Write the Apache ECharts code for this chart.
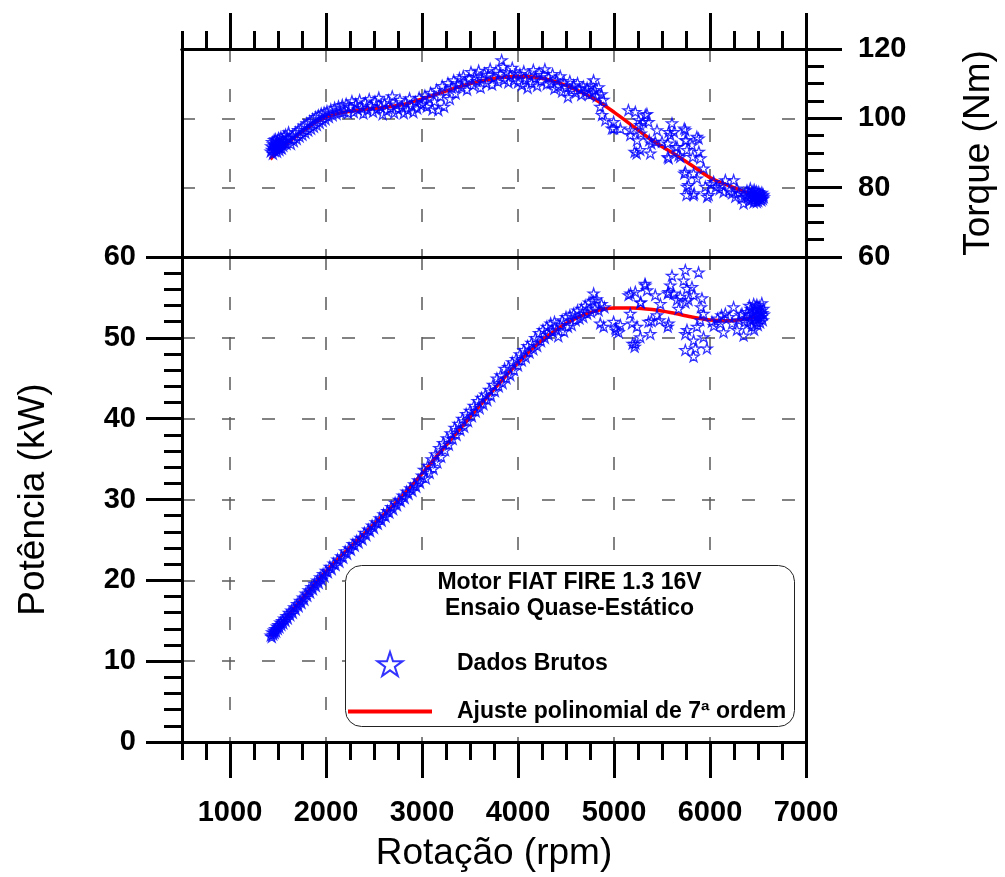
<!DOCTYPE html>
<html><head><meta charset="utf-8">
<script src="https://cdn.jsdelivr.net/npm/echarts@6/dist/echarts.min.js"></script>
<style>html,body{margin:0;padding:0;background:#fff}#c{width:1005px;height:877px}</style>
</head><body><div id="c"></div><script>
// ---------------- data ----------------
const xTicksMajor = [1000, 2000, 3000, 4000, 5000, 6000, 7000];

const rawTorque = [
[1425,90.5],[1430,92.0],[1438,91.0],[1440,93.2],[1447,89.8],[1450,92.6],[1455,91.4],[1460,93.8],[1465,90.6],[1470,92.2],[1475,94.0],[1480,91.2],[1485,92.9],[1490,90.4],[1495,93.5],[1500,91.8],[1505,94.3],[1510,92.4],[1515,90.9],[1520,93.1],[1525,91.6],[1530,94.6],[1535,92.8],[1540,91.3],[1548,93.6],[1555,92.1],[1562,94.9],[1570,93.0],[1580,95.3],[1590,92.6],[1600,94.4],[1610,96.0],
[1620,94.2],[1635,92.6],[1650,95.1],[1665,93.4],[1680,96.0],[1695,94.1],[1710,96.7],[1725,94.8],[1740,97.2],[1755,95.3],[1770,98.0],[1785,95.9],[1800,98.6],[1815,96.5],[1830,99.2],[1845,97.0],[1860,99.8],[1875,97.6],[1890,100.4],[1905,98.1],[1920,100.9],[1935,98.7],[1950,101.4],[1965,99.3],[1980,101.7],[1995,99.8],[2010,102.1],[2030,100.4],[2050,102.6],[2070,100.9],[2090,103.1],[2110,101.3],[2130,103.5],[2150,101.7],[2170,103.9],[2190,102.0],[2210,104.2],[2230,101.6],
[2250,103.3],[2270,105.0],[2290,101.8],[2310,104.2],[2330,102.6],[2350,105.3],[2370,103.0],[2390,101.4],[2410,104.6],[2430,102.4],[2450,105.6],[2470,103.6],[2490,101.9],[2510,104.9],[2530,102.8],[2550,106.0],[2570,103.4],[2590,101.2],[2610,104.4],[2630,102.2],[2650,105.2],[2670,103.0],[2690,106.4],[2710,101.6],[2730,104.0],[2750,102.6],[2770,105.4],[2790,103.2],[2810,101.5],[2830,104.6],[2850,102.4],[2870,105.8],[2890,103.6],[2910,101.8],[2930,104.8],[2950,102.9],[2970,106.0],[2990,103.8],
[3010,104.2],[3030,106.6],[3050,103.4],[3070,105.8],[3090,107.4],[3110,102.6],[3130,104.9],[3150,108.3],[3170,102.4],[3190,106.4],[3210,109.4],[3230,103.4],[3250,107.8],[3270,110.2],[3290,105.6],[3310,108.9],[3330,111.0],[3350,107.2],[3370,109.8],[3390,111.6],
[3410,109.0],[3430,112.2],[3450,110.4],[3470,108.3],[3490,111.6],[3510,113.4],[3530,109.6],[3550,112.0],[3570,110.8],[3590,113.8],[3610,108.9],[3630,111.4],[3650,113.0],[3670,110.2],[3690,112.6],[3710,114.3],[3730,109.8],[3750,111.8],[3770,113.6],[3790,110.6],[3810,112.9],[3830,116.8],[3845,114.9],[3860,111.2],[3880,113.3],[3900,110.4],[3920,112.4],[3940,114.6],[3960,111.0],[3980,113.0],
[4000,110.4],[4020,112.8],[4040,109.6],[4060,113.6],[4080,111.2],[4100,108.8],[4120,112.3],[4140,110.2],[4160,114.0],[4180,111.6],[4200,109.4],[4220,113.2],[4240,110.8],[4260,112.6],[4280,114.2],[4300,109.9],[4320,111.9],[4340,110.2],[4360,112.8],[4380,108.6],[4400,111.0],[4420,109.4],[4440,112.2],[4460,107.8],[4480,110.4],[4500,108.9],[4520,106.2],[4540,110.8],[4560,108.2],[4580,109.6],[4600,107.4],[4620,110.2],[4640,108.6],[4660,106.8],[4680,109.2],[4700,107.6],
[4720,108.8],[4740,106.9],[4760,109.6],[4780,107.4],[4787,111.0],[4800,108.2],[4820,106.4],[4840,109.0],[4857,103.4],[4870,107.0],[4875,101.0],[4890,105.4],[4910,99.5],
[4979,97.1],[4996,99.0],[4999,97.1],[5066,97.1],[5150,102.4],[5172,96.6],[5222,101.9],[5258,99.5],[5274,98.1],[5170,95.2],[5240,93.7],[5215,90.4],[5236,89.9],[5274,90.9],[5280,95.7],[5301,99.0],[5378,89.9],[5326,101.0],[5343,101.3],[5360,99.0],[5367,93.7],[5389,92.8],[5448,96.6],[5430,93.3],[5500,93.3],[5560,92.8],[5560,88.9],[5569,96.1],[5569,88.5],[5587,95.2],[5604,98.6],[5625,96.1],[5640,91.8],[5656,91.8],[5673,89.4],[5690,88.9],[5732,97.1],[5743,96.6],[5743,93.7],[5753,93.7],[5760,90.9],[5812,92.3],[5820,88.9],[5863,94.7],[5881,94.2],[5884,90.4],[5899,88.5],[5733,84.1],[5743,84.6],[5776,80.8],[5829,84.1],[5864,82.7],[5760,80.3],[5755,77.9],[5835,78.4],[5829,77.9],[5933,85.6],[5971,77.4],[5986,77.9],[5951,80.3],
[6010,81.0],[6038,81.7],[6060,80.2],[6100,79.6],[6130,80.8],[6142,78.8],[6160,82.2],[6200,79.2],[6230,78.4],[6246,82.2],[6264,77.4],[6281,79.8],[6300,78.6],[6330,77.0],[6350,75.5],[6360,78.0],
[6385,79.2],[6395,77.4],[6405,78.6],[6410,76.2],[6420,79.8],[6425,77.8],[6435,76.6],[6440,78.9],[6450,77.2],[6455,75.8],[6460,79.4],[6465,78.0],[6470,76.6],[6478,77.6],[6482,79.0],[6488,75.9],[6492,78.4],[6498,77.0],[6502,76.2],[6508,78.8],[6512,77.6],[6518,76.8],[6522,78.2],[6528,77.2],[6535,76.4],[6540,78.6],[6545,77.6],[6550,76.8],[6555,78.0],[6560,77.3]
];

const rawPower = [
[1425,13.2],[1435,13.0],[1440,13.6],[1450,13.3],[1458,13.8],[1465,13.5],[1472,14.0],[1480,13.7],[1490,14.3],[1498,14.0],[1505,14.5],[1515,14.2],[1525,14.8],[1535,14.5],[1545,15.0],[1555,14.7],[1565,15.3],[1578,15.0],[1590,15.6],[1602,15.3],[1615,16.0],[1628,15.7],[1640,16.3],[1655,16.0],[1670,16.7],[1685,16.4],[1700,17.1],[1715,16.8],[1730,17.5],[1745,17.2],[1760,17.9],[1775,17.6],[1790,18.4],[1805,18.1],[1820,18.8],[1835,18.5],[1850,19.2],[1865,18.9],[1880,19.6],[1895,19.3],[1910,20.0],[1925,19.7],[1940,20.4],[1955,20.1],[1970,20.8],[1985,20.5],
[2000,21.2],[2020,21.0],[2040,21.7],[2060,21.4],[2080,22.1],[2100,21.9],[2120,22.6],[2140,22.3],[2160,23.0],[2180,22.8],[2200,23.6],[2220,23.3],[2240,24.0],[2260,23.8],[2280,24.5],[2300,24.3],[2320,24.9],[2340,24.7],[2360,25.3],[2380,25.1],[2400,25.9],[2420,25.6],[2440,26.3],[2460,26.1],[2480,26.8],[2500,26.5],[2520,27.2],[2540,27.0],[2560,27.7],[2580,27.4],[2600,28.2],[2620,27.9],[2640,28.6],[2660,28.4],[2680,29.1],[2700,28.8],[2720,29.6],[2740,29.3],[2760,30.0],[2780,29.8],[2800,30.5],[2820,30.2],[2840,31.0],[2860,30.7],[2880,31.4],[2900,31.1],[2920,31.9],[2940,31.6],[2960,32.4],[2980,32.1],[3000,33.0],
[3020,33.7],[3040,32.6],[3060,34.2],[3080,33.3],[3100,35.0],[3120,33.8],[3140,35.6],[3160,34.6],[3180,36.4],[3200,35.3],[3220,37.0],[3240,36.1],[3260,37.6],[3280,36.8],[3300,38.2],[3320,37.5],[3340,38.9],[3360,38.0],[3380,39.4],[3400,38.6],[3420,40.0],[3440,39.0],[3460,40.6],[3480,39.7],[3500,41.0],[3520,40.3],[3540,41.6],[3560,40.9],[3580,42.2],[3600,41.3],[3620,42.6],[3640,41.8],[3660,43.0],[3680,42.3],[3700,43.6],[3720,42.8],[3740,44.2],[3760,43.4],[3780,45.0],[3800,44.0],[3820,45.4],[3840,44.4],[3860,46.2],[3880,45.0],[3900,46.4],[3920,45.4],[3940,47.0],[3960,46.0],[3980,47.4],
[4000,46.6],[4020,48.0],[4040,47.2],[4060,48.5],[4080,47.6],[4100,49.0],[4120,48.2],[4140,49.4],[4160,48.6],[4180,50.0],[4200,49.0],[4220,50.6],[4240,49.6],[4260,51.0],[4280,50.0],[4300,51.4],[4320,50.4],[4340,51.8],[4360,50.8],[4380,52.0],[4400,51.0],[4420,50.2],[4440,51.6],[4460,52.2],[4480,50.8],[4500,52.6],[4520,51.4],[4540,52.8],[4560,51.6],[4580,53.0],[4600,52.2],[4620,53.4],[4640,52.4],[4660,53.6],[4680,52.6],[4700,54.0],[4720,53.0],[4740,54.4],[4760,53.2],[4780,54.6],[4788,55.5],[4800,53.6],[4820,54.8],[4840,53.4],[4857,51.8],[4870,54.2],[4892,51.4],[4900,53.8],
[4996,52.0],[5014,51.2],[5020,50.9],[5066,51.6],[5048,50.7],[5152,55.3],[5172,55.5],[5222,55.7],[5170,53.0],[5187,51.8],[5194,49.3],[5215,48.9],[5240,51.4],[5222,49.3],[5274,50.1],[5280,54.4],[5323,56.7],[5326,56.5],[5344,55.9],[5274,54.4],[5360,52.0],[5378,50.5],[5389,52.1],[5430,55.3],[5448,52.8],[5474,52.2],[5483,54.2],[5560,55.5],[5560,51.4],[5569,51.8],[5569,55.7],[5604,57.7],[5587,56.5],[5621,55.5],[5656,54.7],[5673,53.6],[5690,55.1],[5725,57.1],[5743,58.4],[5760,56.1],[5776,54.7],[5812,56.3],[5881,58.1],[5829,55.3],[5743,54.4],[5760,51.0],[5743,50.5],[5829,49.7],[5847,48.7],[5743,48.5],[5829,47.7],[5968,48.7],[5933,50.1],[5864,51.4],[5899,52.2],[5906,53.8],[5916,54.9],[5933,53.0],
[6020,52.0],[6040,51.5],[6080,52.4],[6108,51.8],[6120,52.8],[6141,50.7],[6160,53.0],[6200,52.6],[6230,51.8],[6246,53.8],[6281,51.0],[6300,52.2],[6320,52.8],[6333,53.0],[6350,50.3],[6360,52.0],
[6385,53.2],[6395,51.8],[6405,52.8],[6410,54.0],[6420,52.2],[6425,53.6],[6435,51.4],[6440,53.0],[6450,52.4],[6455,54.2],[6460,51.0],[6465,53.4],[6470,52.6],[6478,53.8],[6482,52.0],[6488,54.1],[6492,52.8],[6498,51.6],[6502,53.5],[6508,52.4],[6512,53.9],[6518,52.9],[6522,51.9],[6528,53.3],[6535,52.6],[6540,54.3],[6545,53.1],[6550,52.2],[6555,53.6],[6560,52.9]
];

const fitTorque = [[1420,88.2],[1500,90.6],[1600,92.9],[1700,95.1],[1800,97.1],[1900,99.0],[2000,100.3],[2100,101.2],[2200,101.8],[2400,102.6],[2600,103.1],[2800,104.0],[3000,105.6],[3200,107.4],[3400,109.2],[3600,110.7],[3800,111.7],[4000,112.1],[4200,111.8],[4400,110.5],[4600,108.3],[4800,105.5],[5000,101.8],[5200,97.7],[5400,93.6],[5600,90.2],[5800,86.6],[6000,82.9],[6200,80.5],[6400,78.4],[6480,77.7]];

const fitPower = [[1420,13.1],[1500,14.2],[1600,15.6],[1700,17.0],[1800,18.4],[1900,19.8],[2000,21.1],[2200,23.5],[2400,25.8],[2600,28.1],[2800,30.5],[3000,33.2],[3200,36.0],[3400,38.8],[3600,41.6],[3800,44.3],[4000,46.9],[4200,49.2],[4400,51.0],[4600,52.4],[4800,53.3],[5000,53.7],[5200,53.7],[5400,53.5],[5600,53.1],[5800,52.6],[6000,52.2],[6200,52.1],[6400,52.4],[6480,52.6]];

const legendTitle = ['Motor FIAT FIRE 1.3 16V', 'Ensaio Quase-Estático'];
const nameRaw = 'Dados Brutos';
const nameFit = 'Ajuste polinomial de 7ª ordem';

// ---------------- chart ----------------
const FONT = "'Liberation Sans', Arial, Helvetica, sans-serif";
const STAR = 'path://M100,0 L122.45,69.1 L195.1,69.1 L136.3,111.8 L158.8,180.9 L100,138.2 L41.2,180.9 L63.7,111.8 L4.9,69.1 L77.55,69.1 Z';
const LINE_ICON = 'path://M0,0 L84,0 L84,4 L0,4 Z';
const BLK = '#000';
const lineSt = {show: true, onZero: false, lineStyle: {color: BLK, width: 3}};
const dash = {show: true, lineStyle: {color: '#5a5a5a', width: 1.5, type: [13, 27]}};
const noLbl = {show: false};
const tickMinor = {show: true, inside: false, length: 18, lineStyle: {color: BLK, width: 3}};
const tickMajor = {show: true, inside: false, length: 36, lineStyle: {color: BLK, width: 3}, customValues: xTicksMajor};
const lblFont = {color: BLK, fontFamily: FONT, fontWeight: 'bold', fontSize: 29};
const nameFont = {color: BLK, fontFamily: FONT, fontWeight: 'normal', fontSize: 37};
const starStyle = {color: 'rgba(0,0,0,0)', borderColor: '#0000ff', borderWidth: 1.25};

function xAx(o) {
  return Object.assign({type: 'value', min: 500, max: 7000, axisLine: lineSt, axisLabel: noLbl,
    axisTick: {show: false}, splitLine: {show: false}, minorTick: {show: false}}, o);
}
function yAx(o) {
  return Object.assign({type: 'value', axisLine: lineSt, axisLabel: noLbl,
    axisTick: {show: false}, splitLine: {show: false}}, o);
}

const chart = echarts.init(document.getElementById('c'), null, {renderer: 'canvas'});
chart.setOption({
  animation: false,
  backgroundColor: '#fff',
  grid: [
    {left: 182, top: 49, width: 624, height: 208},
    {left: 182, top: 257, width: 624, height: 486}
  ],
  xAxis: [
    xAx({gridIndex: 0, position: 'top', interval: 250, axisTick: tickMinor}),
    xAx({gridIndex: 0, position: 'top', axisTick: tickMajor, splitLine: dash}),
    xAx({gridIndex: 0, position: 'bottom'}),
    xAx({gridIndex: 1, position: 'bottom', interval: 250, axisTick: tickMinor}),
    xAx({gridIndex: 1, position: 'bottom', axisTick: tickMajor, splitLine: dash,
      axisLabel: Object.assign({show: true, margin: 56, customValues: xTicksMajor, formatter: v => String(v)}, lblFont),
      name: 'Rotação (rpm)', nameLocation: 'middle', nameGap: 93, nameTextStyle: nameFont}),
    xAx({gridIndex: 1, position: 'top'})
  ],
  yAxis: [
    yAx({gridIndex: 0, position: 'right', min: 60, max: 120, interval: 5, axisTick: tickMinor}),
    yAx({gridIndex: 0, position: 'right', min: 60, max: 120, interval: 20,
      axisTick: Object.assign({}, tickMinor, {length: 36}), splitLine: dash,
      axisLabel: Object.assign({show: true, margin: 52, formatter: v => String(v)}, lblFont),
      name: 'Torque (Nm)', nameLocation: 'middle', nameGap: 154, nameRotate: 90, nameTextStyle: nameFont}),
    yAx({gridIndex: 0, position: 'left', min: 60, max: 120}),
    yAx({gridIndex: 1, position: 'left', min: 0, max: 60, interval: 2, axisTick: tickMinor}),
    yAx({gridIndex: 1, position: 'left', min: 0, max: 60, interval: 10,
      axisTick: Object.assign({}, tickMinor, {length: 36}), splitLine: dash,
      axisLabel: Object.assign({show: true, margin: 46, formatter: v => String(v)}, lblFont),
      name: 'Potência (kW)', nameLocation: 'middle', nameGap: 130, nameRotate: 90, nameTextStyle: nameFont}),
    yAx({gridIndex: 1, position: 'right', min: 0, max: 60})
  ],
  legend: {
    show: true, orient: 'vertical', left: 343, top: 646, z: 60,
    itemWidth: 84, itemHeight: 24, itemGap: 23, selectedMode: false,
    data: [{name: nameRaw}, {name: nameFit, icon: LINE_ICON, itemStyle: {color: '#ff0000'}}],
    textStyle: {color: BLK, fontFamily: FONT, fontWeight: 'bold', fontSize: 23, padding: [0, 0, 0, 20]}
  },
  graphic: [
    {type: 'rect', z: 50, shape: {x: 345.5, y: 565.5, width: 449, height: 161, r: 16},
      style: {fill: '#fff', stroke: '#222', lineWidth: 1}},
    {type: 'text', z: 51, x: 569.5, y: 583, style: {text: legendTitle[0], fill: BLK, font: "bold 23px " + FONT, align: 'center', verticalAlign: 'middle'}},
    {type: 'text', z: 51, x: 569.5, y: 609, style: {text: legendTitle[1], fill: BLK, font: "bold 23px " + FONT, align: 'center', verticalAlign: 'middle'}}
  ],
  series: [
    {type: 'line', name: nameFit, xAxisIndex: 0, yAxisIndex: 0, data: fitTorque, smooth: 0.3, symbol: 'none',
      lineStyle: {color: '#ff0000', width: 3.5}, itemStyle: {color: '#ff0000'}, z: 2, silent: true},
    {type: 'line', name: nameFit, xAxisIndex: 3, yAxisIndex: 3, data: fitPower, smooth: 0.3, symbol: 'none',
      lineStyle: {color: '#ff0000', width: 3.5}, itemStyle: {color: '#ff0000'}, z: 2, silent: true},
    {type: 'scatter', name: nameRaw, xAxisIndex: 0, yAxisIndex: 0, data: rawTorque, symbol: STAR, symbolSize: 11, symbolKeepAspect: true,
      itemStyle: starStyle, z: 3, silent: true},
    {type: 'scatter', name: nameRaw, xAxisIndex: 3, yAxisIndex: 3, data: rawPower, symbol: STAR, symbolSize: 11, symbolKeepAspect: true,
      itemStyle: starStyle, z: 3, silent: true}
  ]
});
</script></body></html>
